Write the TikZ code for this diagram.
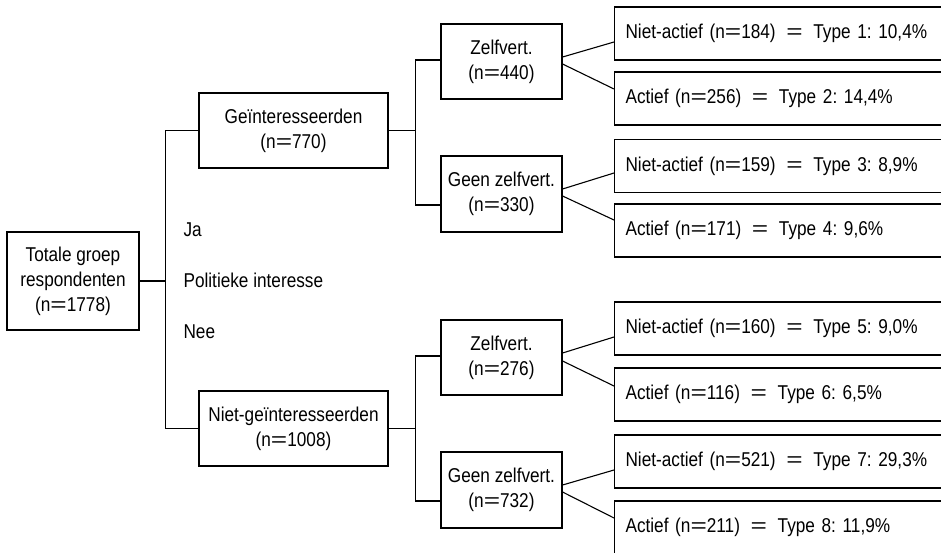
\documentclass[tikz,border=0pt]{standalone}
\usepackage{fontspec}
\setmainfont[FakeStretch=0.86]{Liberation Sans}
\newfontfamily\eqfont[FakeStretch=1.4]{Liberation Sans}
\usetikzlibrary{calc}
\frenchspacing
\newcommand\eqn{{\eqfont=}}
\newcommand\eqw{\ \hspace{4pt}\eqn\hspace{4pt}\ }
\begin{document}
\begin{tikzpicture}[x=1pt,y=-1pt, line width=1.1pt,
  every node/.style={font=\fontsize{20}{25}\selectfont},
  box/.style={draw, rectangle, align=center, inner sep=0pt},
  midbox/.style={box, minimum width=121pt, minimum height=75pt},
  bigbox/.style={box, minimum width=189pt, minimum height=75pt},
  leafbox/.style={draw, rectangle, anchor=west, minimum height=53pt, text width=330pt, inner xsep=11pt, align=left},
  lbl/.style={anchor=base west, inner sep=0pt}
]
\useasboundingbox (0,0) rectangle (941,552);
\clip (0,0) rectangle (941,552);

\node[box, minimum width=132pt, minimum height=98pt] (tot) at (73,281) {Totale groep\\respondenten\\(n\eqn1778)};
\node[bigbox] (gi) at (293.5,130.5) {Geïnteresseerden\\(n\eqn770)};
\node[bigbox] (ngi) at (293.5,428.5) {Niet-geïnteresseerden\\(n\eqn1008)};
\node[midbox] (z1) at (501.5,61.5) {Zelfvert.\\(n\eqn440)};
\node[midbox, minimum height=76pt] (g1) at (501.5,194) {Geen zelfvert.\\(n\eqn330)};
\node[midbox] (z2) at (501.5,357.5) {Zelfvert.\\(n\eqn276)};
\node[midbox, minimum height=76pt] (g2) at (501.5,490) {Geen zelfvert.\\(n\eqn732)};

\node[leafbox] (l1) at (614,33.5) {Niet-actief (n\eqn184)\eqw Type 1: 10,4\%};
\node[leafbox] (l2) at (614,98.5) {Actief (n\eqn256)\eqw Type 2: 14,4\%};
\node[leafbox] (l3) at (614,166) {Niet-actief (n\eqn159)\eqw Type 3: 8,9\%};
\node[leafbox] (l4) at (614,230.5) {Actief (n\eqn171)\eqw Type 4: 9,6\%};
\node[leafbox] (l5) at (614,328.5) {Niet-actief (n\eqn160)\eqw Type 5: 9,0\%};
\node[leafbox] (l6) at (614,394.5) {Actief (n\eqn116)\eqw Type 6: 6,5\%};
\node[leafbox] (l7) at (614,461.5) {Niet-actief (n\eqn521)\eqw Type 7: 29,3\%};
\node[leafbox] (l8) at (614,527.5) {Actief (n\eqn211)\eqw Type 8: 11,9\%};

\node[lbl] (ja) at (183,236) {Ja};
\node[lbl] (pi) at (183,287) {Politieke interesse};
\node[lbl] (nee) at (183,338) {Nee};

\draw (tot.east) -- ++(26,0) coordinate (j1);
\draw (gi.west) -| (j1) |- (ngi.west);
\draw (gi.east) -- ++(27,0) coordinate (j2);
\draw ($(z1.west)+(0,-1.5)$) -| (j2) |- ($(g1.west)+(0,11)$);
\draw (ngi.east) -- ++(27,0) coordinate (j3);
\draw ($(z2.west)+(0,-1.5)$) -| (j3) |- ($(g2.west)+(0,11)$);

\draw ($(z1.east)+(0,-4.5)$) -- ($(l1.west)+(0,8.5)$);
\draw ($(z1.east)+(0,2.5)$) -- ($(l2.west)+(0,-9.5)$);
\draw ($(g1.east)+(0,-5)$) -- ($(l3.west)+(0,7)$);
\draw ($(g1.east)+(0,2)$) -- ($(l4.west)+(0,-10.5)$);
\draw ($(z2.east)+(0,-4.5)$) -- ($(l5.west)+(0,8.5)$);
\draw ($(z2.east)+(0,3.5)$) -- ($(l6.west)+(0,-8.5)$);
\draw ($(g2.east)+(0,-5)$) -- ($(l7.west)+(0,8.5)$);
\draw ($(g2.east)+(0,2)$) -- ($(l8.west)+(0,-9.5)$);
\end{tikzpicture}
\end{document}
